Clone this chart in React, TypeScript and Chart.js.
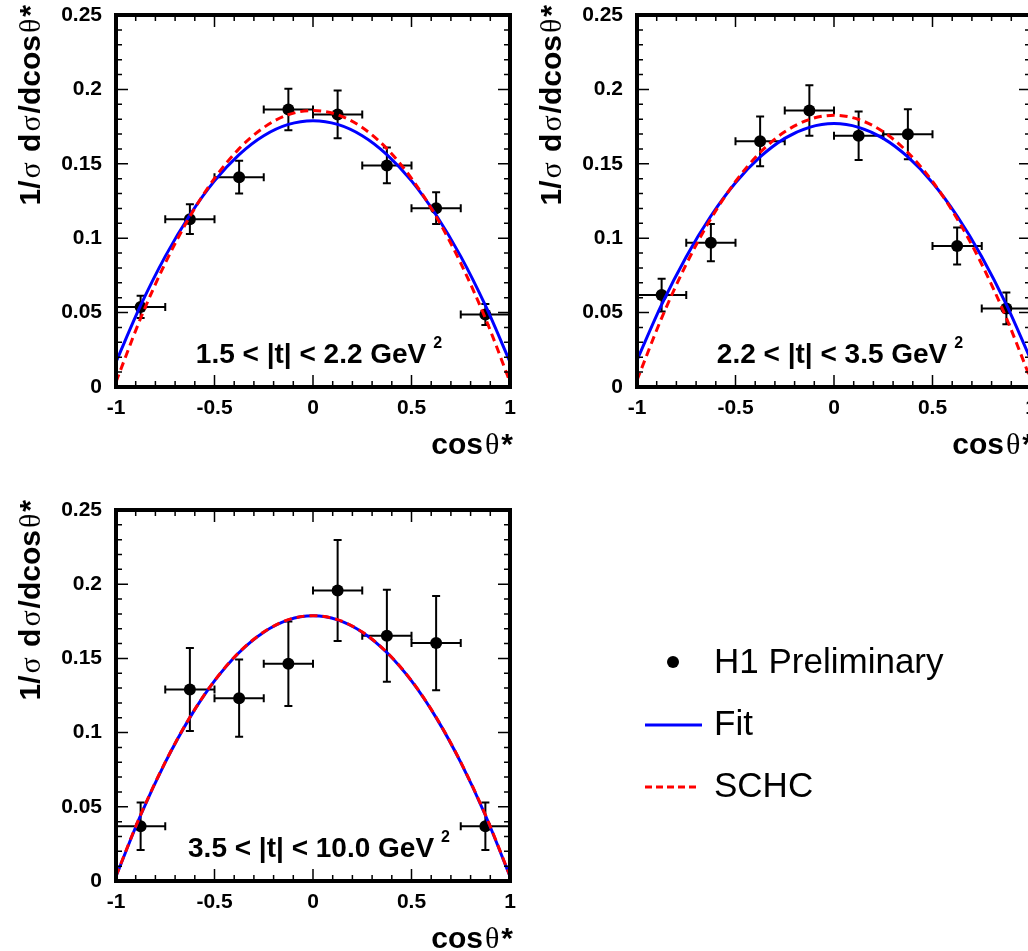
import React, { useEffect, useRef } from "react";
import { Chart, registerables } from "chart.js";

Chart.register(...registerables);

// ---------- data ----------
const binCenters = [-0.875, -0.625, -0.375, -0.125, 0.125, 0.375, 0.625, 0.875];
const binHalfWidth = 0.125;

const values1 = [0.0538, 0.1128, 0.141, 0.1865, 0.1832, 0.1489, 0.1202, 0.0487];
const errors1 = [0.0075, 0.01, 0.011, 0.014, 0.016, 0.012, 0.0107, 0.007];
const values2 = [0.0618, 0.097, 0.1651, 0.1858, 0.1689, 0.1698, 0.0948, 0.0528];
const errors2 = [0.011, 0.0125, 0.0167, 0.017, 0.0163, 0.0168, 0.0124, 0.0107];
const values3 = [0.0369, 0.129, 0.1232, 0.1464, 0.1958, 0.1652, 0.1603, 0.0369];
const errors3 = [0.016, 0.028, 0.026, 0.0285, 0.034, 0.031, 0.0317, 0.016];

const curveX = [-1, -0.875, -0.75, -0.625, -0.5, -0.375, -0.25, -0.125, 0, 0.125, 0.25, 0.375, 0.5, 0.625, 0.75, 0.875, 1];
const fit1 = [0.0168, 0.0548, 0.0878, 0.1156, 0.1385, 0.1562, 0.1689, 0.1765, 0.179, 0.1765, 0.1689, 0.1562, 0.1385, 0.1156, 0.0878, 0.0548, 0.0168];
const schc1 = [0.0034, 0.0462, 0.0832, 0.1146, 0.1402, 0.1602, 0.1744, 0.183, 0.1858, 0.183, 0.1744, 0.1602, 0.1402, 0.1146, 0.0832, 0.0462, 0.0034];
const fit2 = [0.018, 0.0553, 0.0876, 0.1149, 0.1373, 0.1546, 0.1671, 0.1745, 0.177, 0.1745, 0.1671, 0.1546, 0.1373, 0.1149, 0.0876, 0.0553, 0.018];
const schc2 = [0.0046, 0.0463, 0.0825, 0.1131, 0.1381, 0.1576, 0.1715, 0.1798, 0.1826, 0.1798, 0.1715, 0.1576, 0.1381, 0.1131, 0.0825, 0.0463, 0.0046];
const fit3 = [0.0031, 0.0443, 0.0799, 0.1101, 0.1348, 0.154, 0.1677, 0.176, 0.1787, 0.176, 0.1677, 0.154, 0.1348, 0.1101, 0.0799, 0.0443, 0.0031];
const schc3 = [0.0034, 0.0446, 0.0801, 0.1103, 0.135, 0.1541, 0.1678, 0.1761, 0.1788, 0.1761, 0.1678, 0.1541, 0.135, 0.1103, 0.0801, 0.0446, 0.0034];

const xTickLabels = ["-1", "-0.5", "0", "0.5", "1"];
const yTickLabels = ["0", "0.05", "0.1", "0.15", "0.2", "0.25"];

const panelLabels = ["1.5 < |t| < 2.2 GeV", "2.2 < |t| < 3.5 GeV", "3.5 < |t| < 10.0 GeV"];
const legendLabels = ["H1 Preliminary", "Fit", "SCHC"];

// ---------- styling ----------
const SANS = '"Liberation Sans", Arial, Helvetica, sans-serif';
const SERIF = '"Liberation Serif", "Times New Roman", serif';
const BLUE = "#0000ff";
const RED = "#ff0000";

type Seg = { t: string; g?: boolean };
const yTitleSegs: Seg[] = [
  { t: "1/" },
  { t: "σ", g: true },
  { t: " d" },
  { t: "σ", g: true },
  { t: "/dcos" },
  { t: "θ", g: true },
  { t: "*" },
];
const xTitleSegs: Seg[] = [{ t: "cos" }, { t: "θ", g: true }, { t: "*" }];

const TITLE_SIZE = 30;
const GREEK_PAD = 2;

function segFont(s: Seg, size: number) {
  return s.g ? `${size}px ${SERIF}` : `bold ${size}px ${SANS}`;
}
function measureRich(ctx: CanvasRenderingContext2D, segs: Seg[], size: number) {
  let w = 0;
  for (const s of segs) {
    ctx.font = segFont(s, size);
    w += ctx.measureText(s.t).width + (s.g ? 2 * GREEK_PAD : 0);
  }
  return w;
}
function drawRich(ctx: CanvasRenderingContext2D, segs: Seg[], size: number, x0: number, y0: number) {
  let x = x0;
  for (const s of segs) {
    ctx.font = segFont(s, size);
    if (s.g) x += GREEK_PAD;
    ctx.fillText(s.t, x, y0);
    x += ctx.measureText(s.t).width + (s.g ? GREEK_PAD : 0);
  }
}

type PanelCfg = {
  values: number[];
  errors: number[];
  fit: number[];
  schc: number[];
  label: string;
  legend?: boolean;
  left: number;
  top: number;
  width: number;
  height: number;
  padTop: number;
  padRight: number;
  xAxisHeight: number;
  legendOffsetY: number;
};

const decorPlugin = {
  id: "decor",
  beforeDatasetsDraw(chart: any, _args: any, opts: any) {
    const { ctx, scales } = chart;
    const x = scales.x;
    const y = scales.y;
    const cfg: PanelCfg = opts.cfg;
    ctx.save();
    ctx.strokeStyle = "#000";
    ctx.lineWidth = 2;
    const cap = 4;
    binCenters.forEach((c, i) => {
      const v = cfg.values[i];
      const e = cfg.errors[i];
      const px = x.getPixelForValue(c);
      const py = y.getPixelForValue(v);
      const pTop = y.getPixelForValue(v + e);
      const pBot = y.getPixelForValue(v - e);
      const pL = x.getPixelForValue(c - binHalfWidth);
      const pR = x.getPixelForValue(c + binHalfWidth);
      ctx.beginPath();
      ctx.moveTo(px, pTop);
      ctx.lineTo(px, pBot);
      ctx.moveTo(px - cap, pTop);
      ctx.lineTo(px + cap, pTop);
      ctx.moveTo(px - cap, pBot);
      ctx.lineTo(px + cap, pBot);
      ctx.moveTo(pL, py);
      ctx.lineTo(pR, py);
      ctx.moveTo(pL, py - cap);
      ctx.lineTo(pL, py + cap);
      ctx.moveTo(pR, py - cap);
      ctx.lineTo(pR, py + cap);
      ctx.stroke();
    });
    ctx.restore();
  },
  afterDraw(chart: any, _args: any, opts: any) {
    const { ctx, chartArea: a, scales } = chart;
    const x = scales.x;
    const y = scales.y;
    const cfg: PanelCfg = opts.cfg;
    ctx.save();
    ctx.strokeStyle = "#000";
    ctx.fillStyle = "#000";
    // ticks
    ctx.lineWidth = 1.5;
    ctx.beginPath();
    for (let k = -10; k <= 10; k++) {
      const px = x.getPixelForValue(k / 10);
      const L = k % 5 === 0 ? 12 : 6;
      ctx.moveTo(px, a.bottom);
      ctx.lineTo(px, a.bottom - L);
      ctx.moveTo(px, a.top);
      ctx.lineTo(px, a.top + L);
    }
    for (let k = 0; k <= 25; k++) {
      const py = y.getPixelForValue(k / 100);
      const L = k % 5 === 0 ? 12 : 6;
      ctx.moveTo(a.left, py);
      ctx.lineTo(a.left + L, py);
      ctx.moveTo(a.right, py);
      ctx.lineTo(a.right - L, py);
    }
    ctx.stroke();
    // frame
    ctx.lineWidth = 4;
    ctx.strokeRect(a.left, a.top, a.right - a.left, a.bottom - a.top);

    // x title (right aligned)
    ctx.textBaseline = "alphabetic";
    ctx.textAlign = "left";
    const xw = measureRich(ctx, xTitleSegs, TITLE_SIZE);
    drawRich(ctx, xTitleSegs, TITLE_SIZE, a.right + 3 - xw, a.bottom + 67);

    // y title (rotated, end aligned at top)
    const yw = measureRich(ctx, yTitleSegs, TITLE_SIZE);
    ctx.save();
    ctx.translate(a.left - 76, a.top - 10);
    ctx.rotate(-Math.PI / 2);
    drawRich(ctx, yTitleSegs, TITLE_SIZE, -yw, 0);
    ctx.restore();

    // panel label with superscript
    ctx.font = `bold 28px ${SANS}`;
    const mw = ctx.measureText(cfg.label).width;
    ctx.font = `bold 16px ${SANS}`;
    const sw = ctx.measureText("2").width;
    const total = mw + 7 + sw;
    const sx = (a.left + a.right) / 2 + 6 - total / 2;
    const base = a.bottom - 24;
    ctx.font = `bold 28px ${SANS}`;
    ctx.fillText(cfg.label, sx, base);
    ctx.font = `bold 16px ${SANS}`;
    ctx.fillText("2", sx + mw + 7, base - 15);

    // legend
    if (cfg.legend) {
      const oy = cfg.legendOffsetY;
      ctx.beginPath();
      ctx.arc(673, 662 - oy, 6, 0, Math.PI * 2);
      ctx.fill();
      ctx.font = `35px ${SANS}`;
      ctx.fillText(legendLabels[0], 714, 673 - oy);
      ctx.fillText(legendLabels[1], 714, 735 - oy);
      ctx.fillText(legendLabels[2], 714, 797 - oy);
      ctx.lineWidth = 3;
      ctx.strokeStyle = BLUE;
      ctx.beginPath();
      ctx.moveTo(645, 725 - oy);
      ctx.lineTo(702, 725 - oy);
      ctx.stroke();
      ctx.strokeStyle = RED;
      ctx.setLineDash([7, 4]);
      ctx.beginPath();
      ctx.moveTo(645, 787 - oy);
      ctx.lineTo(700, 787 - oy);
      ctx.stroke();
      ctx.setLineDash([]);
    }
    ctx.restore();
  },
};

function zeroPadding(s: any) {
  s.paddingTop = 0;
  s.paddingBottom = 0;
  s.paddingLeft = 0;
  s.paddingRight = 0;
}

function Panel({ cfg }: { cfg: PanelCfg }) {
  const ref = useRef<HTMLCanvasElement | null>(null);
  useEffect(() => {
    if (!ref.current) return;
    const tickFont = { family: SANS, size: 21, weight: "bold" as const };
    const chart = new Chart(ref.current, {
      type: "scatter",
      data: {
        datasets: [
          {
            label: legendLabels[2],
            data: curveX.map((c, i) => ({ x: c, y: cfg.schc[i] })),
            showLine: true,
            borderColor: RED,
            borderWidth: 3,
            borderDash: [8, 5],
            pointRadius: 0,
            pointHoverRadius: 0,
            cubicInterpolationMode: "monotone",
            fill: false,
          },
          {
            label: legendLabels[1],
            data: curveX.map((c, i) => ({ x: c, y: cfg.fit[i] })),
            showLine: true,
            borderColor: BLUE,
            borderWidth: 3,
            pointRadius: 0,
            pointHoverRadius: 0,
            cubicInterpolationMode: "monotone",
            fill: false,
          },
          {
            label: legendLabels[0],
            data: binCenters.map((c, i) => ({ x: c, y: cfg.values[i] })),
            showLine: false,
            pointRadius: 6,
            pointHoverRadius: 6,
            pointBackgroundColor: "#000",
            pointBorderWidth: 0,
            borderColor: "#000",
          },
        ],
      },
      options: {
        responsive: false,
        animation: false,
        events: [],
        layout: { padding: { left: 0, top: cfg.padTop, right: cfg.padRight, bottom: 0 } },
        plugins: {
          legend: { display: false },
          tooltip: { enabled: false },
          decor: { cfg },
        } as any,
        scales: {
          x: {
            type: "linear",
            min: -1,
            max: 1,
            ticks: {
              stepSize: 0.5,
              color: "#000",
              font: tickFont,
              padding: 9,
              maxRotation: 0,
              autoSkip: false,
              callback: (_v: any, i: number) => xTickLabels[i],
            },
            grid: { display: false, drawTicks: false },
            border: { display: false },
            afterFit: (s: any) => {
              s.height = cfg.xAxisHeight;
              zeroPadding(s);
            },
          },
          y: {
            type: "linear",
            min: 0,
            max: 0.25,
            ticks: {
              stepSize: 0.05,
              color: "#000",
              font: tickFont,
              padding: 14,
              autoSkip: false,
              callback: (_v: any, i: number) => yTickLabels[i],
            },
            grid: { display: false, drawTicks: false },
            border: { display: false },
            afterFit: (s: any) => {
              s.width = 116;
              zeroPadding(s);
            },
          },
        },
      } as any,
      plugins: [decorPlugin],
    });
    return () => chart.destroy();
  }, [cfg]);
  return (
    <canvas
      ref={ref}
      width={cfg.width}
      height={cfg.height}
      style={{ position: "absolute", left: cfg.left, top: cfg.top, width: cfg.width, height: cfg.height }}
    />
  );
}

const panels: PanelCfg[] = [
  { values: values1, errors: errors1, fit: fit1, schc: schc1, label: panelLabels[0], left: 0, top: 0, width: 520, height: 470, padTop: 15, padRight: 10, xAxisHeight: 83, legendOffsetY: 0 },
  { values: values2, errors: errors2, fit: fit2, schc: schc2, label: panelLabels[1], left: 521, top: 0, width: 520, height: 470, padTop: 15, padRight: 10, xAxisHeight: 83, legendOffsetY: 0 },
  { values: values3, errors: errors3, fit: fit3, schc: schc3, label: panelLabels[2], legend: true, left: 0, top: 470, width: 1028, height: 481, padTop: 40, padRight: 518, xAxisHeight: 70, legendOffsetY: 470 },
];

export default function App() {
  return (
    <div
      style={{
        position: "absolute",
        left: 0,
        top: 0,
        width: 1028,
        height: 951,
        overflow: "hidden",
        background: "#fff",
      }}
    >
      {panels.map((p, i) => (
        <Panel key={i} cfg={p} />
      ))}
    </div>
  );
}
